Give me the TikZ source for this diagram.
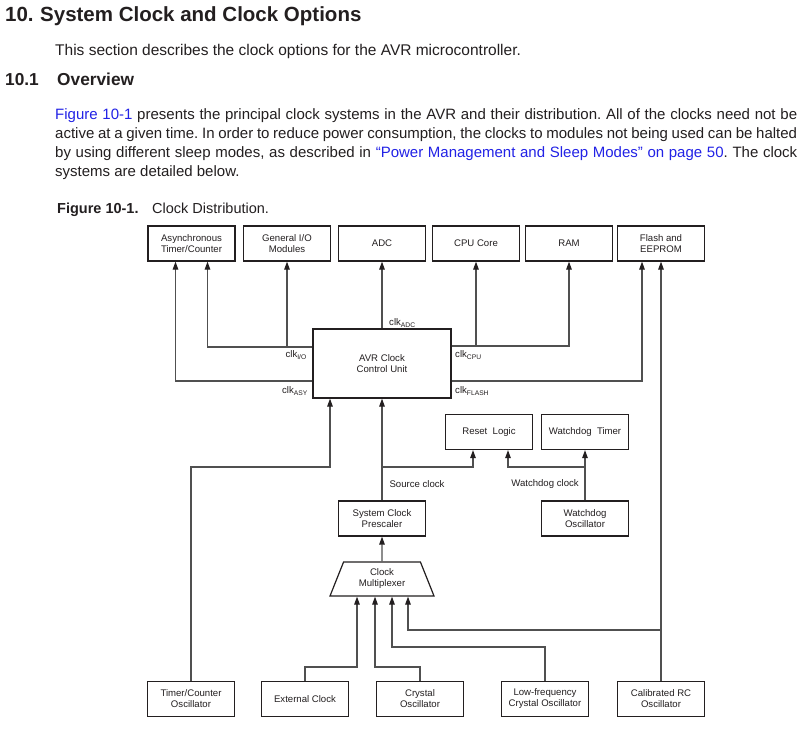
\documentclass[tikz,border=0pt]{standalone}
\usepackage{fontspec}
\setmainfont{Liberation Sans}
\usetikzlibrary{arrows.meta, shapes.geometric}
\frenchspacing

\definecolor{link}{HTML}{2222E6}
\definecolor{wire}{HTML}{505050}
\definecolor{ink}{HTML}{231F20}

\begin{document}
\begin{tikzpicture}[
    x = 1pt, y = -1pt,
    B/.style = {draw=ink, line width=1.2pt, minimum width=87pt, minimum height=35pt,
                inner sep=1pt, align=center, text=ink, font=\fontsize{9.6}{11}\selectfont},
    M/.style = {B, trapezium, trapezium angle=58.3, trapezium stretches body=true,
                minimum width=104pt, minimum height=34pt},
    L/.style = {text=ink, inner sep=0pt, font=\fontsize{9.6}{11}\selectfont},
    A/.style = {draw=wire, line width=1.2pt, -{Triangle[length=8pt, width=5.5pt, color=ink]}},
    P/.style = {anchor=base west, inner sep=0pt, text=ink, font=\fontsize{15}{18}\selectfont},
    H/.style = {P, font=\bfseries\fontsize{20.5}{24}\selectfont}
    ]
    \useasboundingbox[fill=white] (0,0) rectangle (801,732);

    % headings and text
    \node[H] (t1) at (5,21) {10.};
    \node[H] (t2) at (40,21) {System Clock and Clock Options};
    \node[P, font=\fontsize{15.5}{18}\selectfont] (s1) at (55,55.5)
        {This section describes the clock options for the AVR microcontroller.};
    \node[H, font=\bfseries\fontsize{17.3}{20}\selectfont] (t3) at (5,85.5) {10.1};
    \node[H, font=\bfseries\fontsize{17.3}{20}\selectfont] (t4) at (57,85.5) {Overview};
    \node[P] (p1) at (55,119) {\makebox[742pt][s]{\textcolor{link}{Figure 10-1} presents the principal clock systems in the AVR and their distribution. All of the clocks need not be}};
    \node[P] (p2) at (55,138) {\makebox[742pt][s]{active at a given time. In order to reduce power consumption, the clocks to modules not being used can be halted}};
    \node[P] (p3) at (55,157) {\makebox[742pt][s]{by using different sleep modes, as described in \textcolor{link}{“Power Management and Sleep Modes” on page 50}. The clock}};
    \node[P] (p4) at (55,176) {systems are detailed below.};
    \node[P, font=\bfseries\fontsize{14.5}{17}\selectfont] (c1) at (57,213) {Figure 10-1.};
    \node[P, font=\fontsize{14.5}{17}\selectfont] (c2) at (152,213) {Clock Distribution.};

    % modules
    \node[B] (asy) at (191.5,243.5) {Asynchronous\\Timer/Counter};
    \node[B] (gio) at (287,243.5) {General I/O\\Modules};
    \node[B] (adc) at (382,243.5) {ADC};
    \node[B] (cpu) at (476,243.5) {CPU Core};
    \node[B] (ram) at (569,243.5) {RAM};
    \node[B] (fla) at (661,243.5) {Flash and\\EEPROM};
    \node[B, minimum width=138pt, minimum height=69pt] (ccu) at (382,363.5) {AVR Clock\\Control Unit};
    \node[B] (rst) at (489,432) {Reset~~Logic};
    \node[B] (wdt) at (585,432) {Watchdog~~Timer};
    \node[B] (pre) at (382,518.5) {System Clock\\Prescaler};
    \node[B] (wdo) at (585,518.5) {Watchdog\\Oscillator};
    \node[M] (mux) at (382,579) {Clock\\Multiplexer};

    % sources
    \node[B] (tco) at (191,699) {Timer/Counter\\Oscillator};
    \node[B] (ext) at (305,699) {External Clock};
    \node[B] (xo) at (420,699) {Crystal\\Oscillator};
    \node[B] (lfx) at (545,699) {Low-frequency\\Crystal Oscillator};
    \node[B] (rco) at (661,699) {Calibrated RC\\Oscillator};

    % clocks out of the control unit
    \draw[A] (ccu.north) -- (adc.south);
    \draw[A] (ccu.west |- 0,347) -| ([xshift=16pt]asy.south);
    \draw[A] (gio.south |- 0,347) -- (gio.south);
    \draw[A] (ccu.west |- 0,381) -| ([xshift=-16pt]asy.south);
    \draw[A] (ccu.east |- 0,346) -| (ram.south);
    \draw[A] (cpu.south |- 0,346) -- (cpu.south);
    \draw[A] (ccu.east |- 0,381) -| ([xshift=-19pt]fla.south);
    \draw[A] (rco.north) -- (fla.south);

    \node[L, anchor=west] (kadc) at (389,323) {clk\textsubscript{ADC}};
    \node[L, anchor=east] (kio) at (307,355) {clk\textsubscript{I/O}};
    \node[L, anchor=east] (kasy) at (308,391) {clk\textsubscript{ASY}};
    \node[L, anchor=west] (kcpu) at (455,355) {clk\textsubscript{CPU}};
    \node[L, anchor=west] (kfla) at (455,391) {clk\textsubscript{FLASH}};

    % into the control unit
    \coordinate (ccuA) at ([xshift=-52pt]ccu.south);
    \coordinate (rstS) at ([xshift=-16pt]rst.south);
    \coordinate (rstW) at ([xshift=19pt]rst.south);
    \draw[A] (tco.north) |- (ccuA |- 0,467) -- (ccuA);
    \draw[A] (pre.north) -- (ccu.south);
    \draw[A] (pre.north |- 0,467) -| (rstS);
    \draw[A] (wdo.north) -- (wdt.south);
    \draw[A] (wdo.north |- 0,467) -| (rstW);
    \draw[A] (mux.north) -- (pre.south);
    \node[L] (lsrc) at (417,484) {Source clock};
    \node[L] (lwdc) at (545,484) {Watchdog clock};

    % multiplexer inputs
    \coordinate (in1) at ([xshift=-25pt]mux.south);
    \coordinate (in2) at ([xshift=-7pt]mux.south);
    \coordinate (in3) at ([xshift=10pt]mux.south);
    \coordinate (in4) at ([xshift=26pt]mux.south);
    \draw[A] (ext.north) |- (in1 |- 0,667) -- (in1);
    \draw[A] (xo.north) |- (in2 |- 0,667) -- (in2);
    \draw[A] (lfx.north) |- (in3 |- 0,647) -- (in3);
    \draw[A] (rco.north |- 0,630) -| (in4);
\end{tikzpicture}
\end{document}
